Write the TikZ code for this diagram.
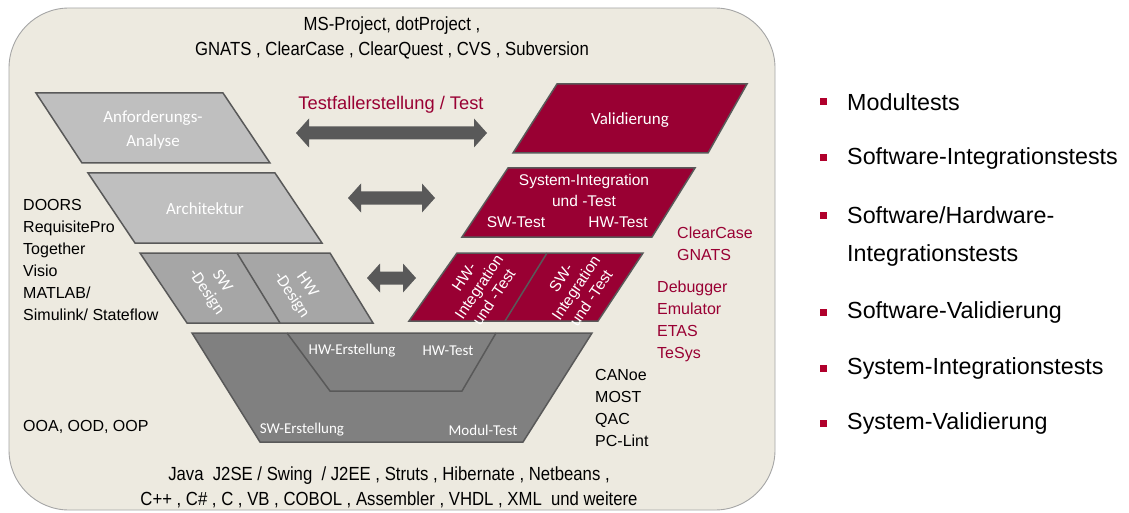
\documentclass[tikz,border=0pt]{standalone}
\usepackage{fontspec}
\setmainfont{Liberation Sans}
\newfontfamily\narrowf[FakeStretch=0.88]{Liberation Sans}
\newfontfamily\calf{Carlito}
\definecolor{crim}{HTML}{990033}
\definecolor{bullc}{HTML}{B0002C}
\definecolor{bgc}{HTML}{EDEAE0}
\definecolor{bgline}{HTML}{A6A6A6}
\definecolor{edgec}{HTML}{595959}
\definecolor{lightg}{HTML}{BFBFBF}
\definecolor{midg}{HTML}{A6A6A6}
\definecolor{darkg}{HTML}{808080}
\definecolor{arrc}{HTML}{595959}
\begin{document}
\begin{tikzpicture}[x=1pt,y=-1pt,
  shapebox/.style={draw=edgec,line width=1.5pt,line join=miter},
  whitecal/.style={text=white,font=\calf\fontsize{17}{24}\selectfont,align=center,inner sep=0pt},
  whitecals/.style={text=white,font=\calf\fontsize{15}{18}\selectfont,inner sep=0pt},
  whitearial/.style={text=white,font=\fontsize{15.5}{21}\selectfont,align=center,inner sep=0pt},
  tooltxt/.style={text=black,font=\fontsize{16}{22}\selectfont,align=left,inner sep=0pt,anchor=north west},
  crimtxt/.style={text=crim,font=\fontsize{16}{22}\selectfont,align=left,inner sep=0pt,anchor=north west},
  narrowtxt/.style={text=black,font=\narrowf\fontsize{19}{25}\selectfont,align=center,inner sep=0pt},
  bullsq/.style={fill=bullc,minimum size=7pt,inner sep=0pt,draw=none},
  bulltxt/.style={text=black,font=\fontsize{23.3}{38}\selectfont,align=left,inner sep=0pt,anchor=west},
  blockarrow/.style={fill=arrc,draw=none}
]
\useasboundingbox (0,0) rectangle (1129,513);
\fill[white] (0,0) rectangle (1129,513);
% background panel
\draw[fill=bgc,draw=bgline,line width=0.9pt,rounded corners=60pt] (9,8) rectangle (775,510);

% left side shapes
\draw[shapebox,fill=lightg] (36,93) -- (223,93) -- (270,163) -- (82,163) -- cycle;
\draw[shapebox,fill=lightg] (88,173) -- (275,173) -- (322,243) -- (135,243) -- cycle;
\draw[shapebox,fill=midg] (140,253) -- (330,253) -- (373,323) -- (187,323) -- cycle;
\draw[shapebox] (237,253) -- (280,323);
% bottom trapezoid
\draw[shapebox,fill=darkg] (192,333) -- (592,333) -- (523,442) -- (260,442) -- cycle;
\draw[shapebox] (287,333) -- (330,391) -- (462,391) -- (496,333);

% right side shapes
\draw[shapebox,fill=crim] (557,84) -- (747,84) -- (708,153) -- (513,153) -- cycle;
\draw[shapebox,fill=crim] (508,168) -- (695,168) -- (652,237) -- (462,237) -- cycle;
\draw[shapebox,fill=crim] (457,253) -- (643,253) -- (598,321) -- (409,321) -- cycle;
\draw[shapebox] (547,253) -- (505,321);

% block arrows
\fill[blockarrow] (296,133) -- (309,118.5) -- (309,126.5) -- (474,126.5) -- (474,118.5) -- (487,133) -- (474,147.5) -- (474,139.5) -- (309,139.5) -- (309,147.5) -- cycle;
\fill[blockarrow] (348,198) -- (361,183.5) -- (361,191.5) -- (422,191.5) -- (422,183.5) -- (435,198) -- (422,212.5) -- (422,204.5) -- (361,204.5) -- (361,212.5) -- cycle;
\fill[blockarrow] (367,278) -- (380,263.5) -- (380,271.5) -- (403,271.5) -- (403,263.5) -- (416,278) -- (403,292.5) -- (403,284.5) -- (380,284.5) -- (380,292.5) -- cycle;

% texts in shapes
\node[whitecal] (anf) at (153,130) {Anforderungs-\\Analyse};
\node[whitecal] (arch) at (205,209) {Architektur};
\node[whitecal,rotate=-56,font=\calf\fontsize{17}{19}\selectfont] (swd) at (214,287) {SW\\-Design};
\node[whitecal,rotate=-56,font=\calf\fontsize{17}{19}\selectfont] (hwd) at (299,290) {HW\\-Design};
\node[whitecals] (hwe) at (352,351) {HW-Erstellung};
\node[whitecals] (hwt) at (448,351) {HW-Test};
\node[whitecals] (swe) at (302,430) {SW-Erstellung};
\node[whitecals] (mt) at (483,430) {Modul-Test};
\node[whitecal] (val) at (630,120) {Validierung};
\node[whitearial] (sysi) at (584,190.5) {System-Integration\\und -Test};
\node[whitearial] (swt) at (516,222) {SW-Test};
\node[whitearial] (hwtt) at (618,222) {HW-Test};
\node[whitearial,rotate=56,font=\fontsize{15.5}{18}\selectfont] (hwi) at (479,287) {HW-\\Integration\\und -Test};
\node[whitearial,rotate=56,font=\fontsize{15.5}{18}\selectfont] (swi) at (576,288) {SW-\\Integration\\und -Test};

% heading between columns
\node[text=crim,font=\fontsize{18.3}{20}\selectfont,inner sep=0pt] (tft) at (391,105) {Testfallerstellung / Test};

% tool texts
\node[narrowtxt] (top) at (392,37.5) {MS-Project, dotProject ,\\GNATS , ClearCase , ClearQuest , CVS , Subversion};
\node[narrowtxt] (bot) at (389,487.5) {Java\ \ J2SE / Swing\ \ / J2EE , Struts , Hibernate , Netbeans ,\\C++ , C\# , C , VB , COBOL , Assembler , VHDL , XML\ \ und weitere};
\node[tooltxt] (left) at (23,199.3) {DOORS\\RequisitePro\\Together\\Visio\\MATLAB/\\Simulink/ Stateflow};
\node[tooltxt,anchor=west] (ooa) at (23,427) {OOA, OOD, OOP};
\node[crimtxt] (cc) at (677,226.3) {ClearCase\\GNATS};
\node[crimtxt] (dbg) at (657,280.3) {Debugger\\Emulator\\ETAS\\TeSys};
\node[tooltxt] (can) at (595,369.3) {CANoe\\MOST\\QAC\\PC-Lint};

% bullet list
\node[bullsq] (b1) at (823,102) {};
\node[bulltxt] (t1) at (847,102) {Modultests};
\node[bullsq] (b2) at (823,158) {};
\node[bulltxt] (t2) at (847,158) {Software-Integrationstests};
\node[bullsq] (b3) at (823,215) {};
\node[bulltxt,anchor=north west] (t3) at (847,206.6) {Software/Hardware-\\Integrationstests};
\node[bullsq] (b4) at (823,312) {};
\node[bulltxt] (t4) at (847,312) {Software-Validierung};
\node[bullsq] (b5) at (823,368) {};
\node[bulltxt] (t5) at (847,368) {System-Integrationstests};
\node[bullsq] (b6) at (823,423) {};
\node[bulltxt] (t6) at (847,423) {System-Validierung};
\end{tikzpicture}
\end{document}
